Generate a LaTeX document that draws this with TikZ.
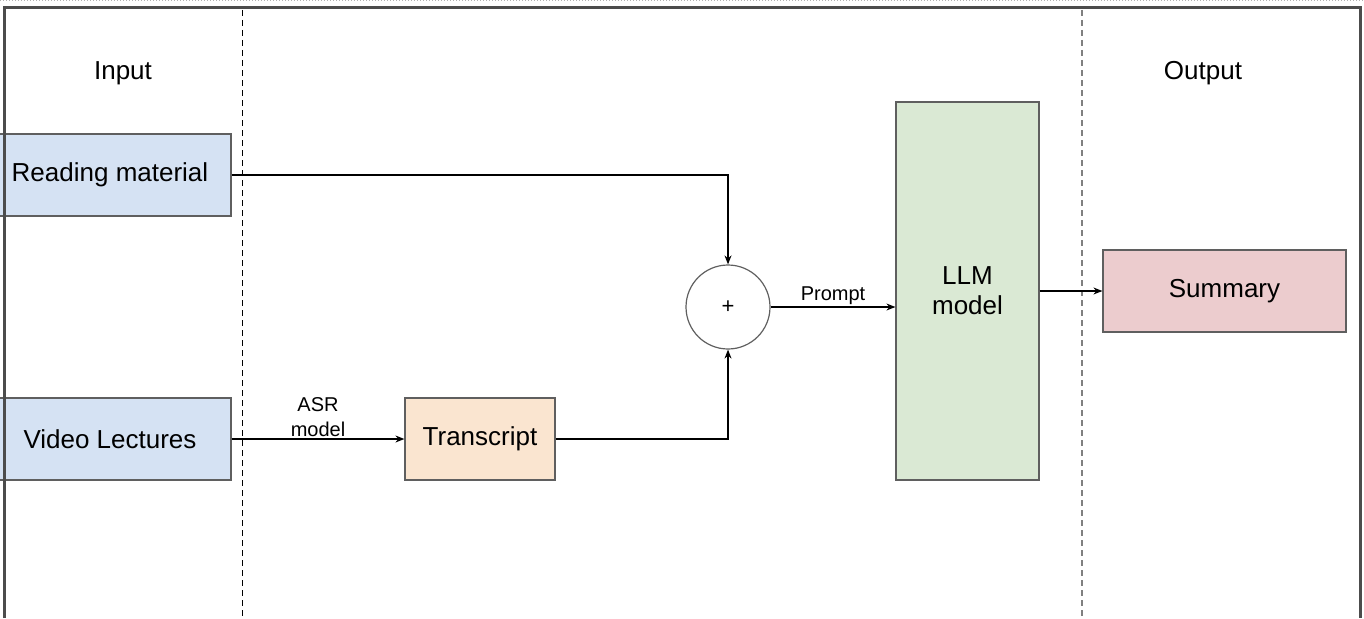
\documentclass[tikz,border=0pt]{standalone}
\usepackage{fontspec}
\setmainfont{Liberation Sans}
\usetikzlibrary{arrows.meta,positioning,calc}
\definecolor{inpcol}{RGB}{213,226,243}
\definecolor{trancol}{RGB}{250,229,208}
\definecolor{llmcol}{RGB}{218,233,212}
\definecolor{sumcol}{RGB}{236,204,206}
\definecolor{edgecol}{RGB}{95,95,95}

\begin{document}
\begin{tikzpicture}[x=1pt, y=-1pt,
    >={Stealth[length=9pt, width=7pt]},
    box/.style={rectangle, draw=edgecol, line width=1.2pt, align=center, inner sep=0pt, font=\fontsize{26}{30}\selectfont},
    sect/.style={font=\fontsize{26}{30}\selectfont},
    lbl/.style={align=center, inner sep=2pt, font=\fontsize{20}{25}\selectfont},
    flow/.style={->, line width=1.2pt},
]
\useasboundingbox (0,0) rectangle (1364,618);
\draw[gray!60, dotted, line width=1pt] (0,1) -- (1364,1);
\draw[dashed, line width=1pt, dash pattern=on 6pt off 4pt] (242,10) -- (242,618);
\draw[gray, line width=1.5pt, dash pattern=on 6pt off 4pt] (1082,10) -- (1082,618);

\node[sect] (inp) at (123,73) {Input};
\node[sect] (outp) at (1203,73) {Output};

\node[box, fill=inpcol, minimum width=242pt, minimum height=82pt] (read) at (110,175) {Reading material};
\node[box, fill=inpcol, minimum width=242pt, minimum height=82pt] (video) at (110,439) {Video Lectures};
\node[box, fill=trancol, minimum width=150pt, minimum height=82pt] (trans) at (480,439) {Transcript};
\node[circle, draw=edgecol, line width=1.2pt, minimum size=84pt, inner sep=0pt, font=\fontsize{22}{26}\selectfont] (plus) at (728,307) {+};
\node[box, fill=llmcol, minimum width=143pt, minimum height=378pt] (llm) at (967.5,291) {LLM\\model};
\node[box, fill=sumcol, minimum width=243pt, minimum height=82pt] (sum) at (1224.5,291) {Summary};

\draw[flow] (read.east) -| (plus.north);
\draw[flow] (video.east) -- node[lbl, above] {ASR\\model} (trans.west);
\draw[flow] (trans.east) -| (plus.south);
\draw[flow] (plus.east) -- node[lbl, above] {Prompt} (plus.east -| llm.west);
\draw[flow] (llm.east) -- (sum.west);

\draw[edgecol!80!black, line width=3pt] (4,618) -- (4,8) -- (1360,8) -- (1360,618);
\end{tikzpicture}
\end{document}
